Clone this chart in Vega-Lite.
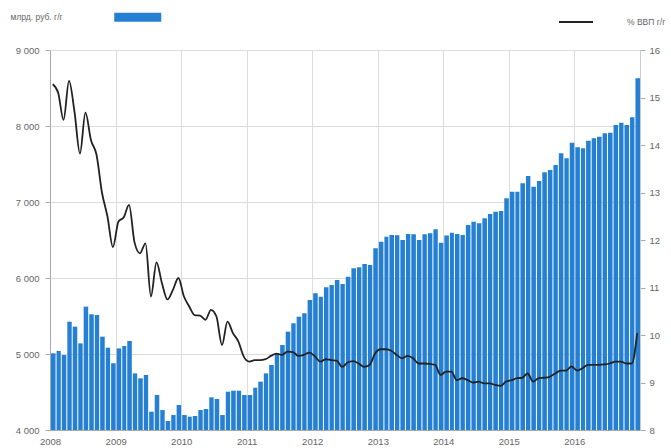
{
"$schema": "https://vega.github.io/schema/vega-lite/v6.json",
"width": 590, "height": 380,
"autosize": {"type": "none"},
"padding": {"left": 50, "top": 50, "right": 31, "bottom": 18},
"background": "white",
"config": {
 "view": {"stroke": null},
 "font": "Liberation Sans",
 "axis": {"labelFont": "Liberation Sans", "labelFontSize": 9.5, "labelColor": "#666", "gridColor": "#dcdcdc", "gridWidth": 1, "tickColor": "#aaa", "domainColor": "#aaa", "title": null},
 "legend": {"labelFont": "Liberation Sans", "titleFont": "Liberation Sans", "labelFontSize": 8.5, "titleFontSize": 8.5, "labelColor": "#666", "titleColor": "#666", "titleFontWeight": "normal"}
},
"data": {"values": [
{"d":"2008-01-01","v":5009,"p":15.28},{"d":"2008-02-01","v":5040,"p":15.1},{"d":"2008-03-01","v":4987,"p":14.53},{"d":"2008-04-01","v":5425,"p":15.35},{"d":"2008-05-01","v":5360,"p":14.7},{"d":"2008-06-01","v":5140,"p":13.82},{"d":"2008-07-01","v":5623,"p":14.68},{"d":"2008-08-01","v":5522,"p":14.1},{"d":"2008-09-01","v":5513,"p":13.8},{"d":"2008-10-01","v":5228,"p":13.0},{"d":"2008-11-01","v":5083,"p":12.5},{"d":"2008-12-01","v":4877,"p":11.85},
{"d":"2009-01-01","v":5074,"p":12.39},{"d":"2009-02-01","v":5105,"p":12.48},{"d":"2009-03-01","v":5171,"p":12.74},{"d":"2009-04-01","v":4745,"p":11.95},{"d":"2009-05-01","v":4680,"p":11.72},{"d":"2009-06-01","v":4724,"p":11.93},{"d":"2009-07-01","v":4241,"p":10.81},{"d":"2009-08-01","v":4460,"p":11.53},{"d":"2009-09-01","v":4263,"p":11.09},{"d":"2009-10-01","v":4118,"p":10.75},{"d":"2009-11-01","v":4197,"p":10.95},{"d":"2009-12-01","v":4329,"p":11.2},
{"d":"2010-01-01","v":4197,"p":10.81},{"d":"2010-02-01","v":4175,"p":10.6},{"d":"2010-03-01","v":4184,"p":10.42},{"d":"2010-04-01","v":4263,"p":10.41},{"d":"2010-05-01","v":4276,"p":10.32},{"d":"2010-06-01","v":4430,"p":10.53},{"d":"2010-07-01","v":4408,"p":10.39},{"d":"2010-08-01","v":4197,"p":9.79},{"d":"2010-09-01","v":4504,"p":10.28},{"d":"2010-10-01","v":4517,"p":10.04},{"d":"2010-11-01","v":4517,"p":9.86},{"d":"2010-12-01","v":4460,"p":9.54},
{"d":"2011-01-01","v":4460,"p":9.44},{"d":"2011-02-01","v":4557,"p":9.47},{"d":"2011-03-01","v":4636,"p":9.47},{"d":"2011-04-01","v":4745,"p":9.49},{"d":"2011-05-01","v":4855,"p":9.56},{"d":"2011-06-01","v":5009,"p":9.61},{"d":"2011-07-01","v":5118,"p":9.58},{"d":"2011-08-01","v":5294,"p":9.65},{"d":"2011-09-01","v":5404,"p":9.64},{"d":"2011-10-01","v":5491,"p":9.56},{"d":"2011-11-01","v":5535,"p":9.58},{"d":"2011-12-01","v":5710,"p":9.63},
{"d":"2012-01-01","v":5798,"p":9.55},{"d":"2012-02-01","v":5754,"p":9.44},{"d":"2012-03-01","v":5877,"p":9.49},{"d":"2012-04-01","v":5908,"p":9.47},{"d":"2012-05-01","v":5974,"p":9.46},{"d":"2012-06-01","v":5921,"p":9.33},{"d":"2012-07-01","v":6018,"p":9.42},{"d":"2012-08-01","v":6127,"p":9.45},{"d":"2012-09-01","v":6140,"p":9.4},{"d":"2012-10-01","v":6184,"p":9.33},{"d":"2012-11-01","v":6171,"p":9.37},{"d":"2012-12-01","v":6390,"p":9.61},
{"d":"2013-01-01","v":6478,"p":9.7},{"d":"2013-02-01","v":6544,"p":9.7},{"d":"2013-03-01","v":6566,"p":9.67},{"d":"2013-04-01","v":6561,"p":9.58},{"d":"2013-05-01","v":6500,"p":9.51},{"d":"2013-06-01","v":6579,"p":9.56},{"d":"2013-07-01","v":6575,"p":9.51},{"d":"2013-08-01","v":6500,"p":9.4},{"d":"2013-09-01","v":6575,"p":9.4},{"d":"2013-10-01","v":6588,"p":9.39},{"d":"2013-11-01","v":6640,"p":9.37},{"d":"2013-12-01","v":6465,"p":9.16},
{"d":"2014-01-01","v":6560,"p":9.23},{"d":"2014-02-01","v":6597,"p":9.23},{"d":"2014-03-01","v":6579,"p":9.05},{"d":"2014-04-01","v":6566,"p":9.09},{"d":"2014-05-01","v":6697,"p":9.05},{"d":"2014-06-01","v":6741,"p":9.0},{"d":"2014-07-01","v":6719,"p":9.02},{"d":"2014-08-01","v":6785,"p":8.98},{"d":"2014-09-01","v":6842,"p":8.98},{"d":"2014-10-01","v":6873,"p":8.95},{"d":"2014-11-01","v":6882,"p":8.93},{"d":"2014-12-01","v":7048,"p":9.02},
{"d":"2015-01-01","v":7136,"p":9.05},{"d":"2015-02-01","v":7136,"p":9.09},{"d":"2015-03-01","v":7246,"p":9.1},{"d":"2015-04-01","v":7342,"p":9.19},{"d":"2015-05-01","v":7202,"p":9.02},{"d":"2015-06-01","v":7276,"p":9.09},{"d":"2015-07-01","v":7390,"p":9.1},{"d":"2015-08-01","v":7421,"p":9.12},{"d":"2015-09-01","v":7487,"p":9.19},{"d":"2015-10-01","v":7640,"p":9.25},{"d":"2015-11-01","v":7575,"p":9.25},{"d":"2015-12-01","v":7781,"p":9.34},
{"d":"2016-01-01","v":7719,"p":9.25},{"d":"2016-02-01","v":7706,"p":9.3},{"d":"2016-03-01","v":7807,"p":9.37},{"d":"2016-04-01","v":7838,"p":9.37},{"d":"2016-05-01","v":7860,"p":9.37},{"d":"2016-06-01","v":7904,"p":9.38},{"d":"2016-07-01","v":7912,"p":9.4},{"d":"2016-08-01","v":8013,"p":9.44},{"d":"2016-09-01","v":8044,"p":9.44},{"d":"2016-10-01","v":8013,"p":9.4},{"d":"2016-11-01","v":8114,"p":9.4},{"d":"2016-12-01","v":8627,"p":10.04}
]},
"layer": [
 {
  "mark": {"type": "bar", "clip": true},
  "encoding": {
   "x": {"field": "d", "timeUnit": "utcyearmonth", "type": "temporal",
     "scale": {"domain": [{"year": 2008, "month": 1, "date": 1, "utc": true}, {"year": 2017, "month": 1, "date": 1, "utc": true}], "nice": false},
     "axis": {"grid": true, "tickSize": 0, "labelPadding": 6, "domainColor": "#aaa",
       "values": [{"year":2008,"utc":true},{"year":2009,"utc":true},{"year":2010,"utc":true},{"year":2011,"utc":true},{"year":2012,"utc":true},{"year":2013,"utc":true},{"year":2014,"utc":true},{"year":2015,"utc":true},{"year":2016,"utc":true},{"year":2017,"utc":true}],
       "labelExpr": "utcFormat(datum.value, '%Y') == '2017' ? '' : utcFormat(datum.value, '%Y')", "labelFlush": false, "labelOverlap": false}},
   "y": {"field": "v", "type": "quantitative",
     "scale": {"domain": [4000, 9000], "zero": false, "nice": false},
     "axis": {"grid": true, "values": [4000, 5000, 6000, 7000, 8000, 9000], "tickSize": 5, "labelPadding": 6,
       "labelExpr": "replace(format(datum.value, ','), ',', ' ')"}},
   "y2": {"datum": 4000},
   "fill": {"datum": "млрд. руб. г/г", "scale": {"range": ["#2580d3"]},
     "legend": {"orient": "none", "legendX": -50, "legendY": -37, "title": null, "labelOffset": 2, "symbolType": "M110,-4.5L157,-4.5L157,4.5L110,4.5Z", "symbolSize": 4, "symbolStrokeWidth": 0, "symbolOpacity": 1}}
  }
 },
 {
  "mark": {"type": "line", "interpolate": "monotone", "strokeWidth": 1.8},
  "encoding": {
   "x": {"field": "d", "timeUnit": "utcyearmonth", "type": "temporal", "bandPosition": 0.5},
   "y": {"field": "p", "type": "quantitative",
     "scale": {"domain": [8, 16], "zero": false, "nice": false},
     "axis": {"orient": "right", "grid": false, "values": [8, 9, 10, 11, 12, 13, 14, 15, 16], "tickSize": 5, "labelPadding": 4, "domainColor": "#ccc"}},
   "stroke": {"datum": "% ВВП г/г", "scale": {"range": ["#222222"]},
     "legend": {"orient": "none", "legendX": 508, "legendY": -46, "title": null, "symbolType": "stroke", "symbolSize": 1156, "symbolStrokeWidth": 2, "labelOffset": 33}}
  }
 }
],
"resolve": {"scale": {"y": "independent"}}
}
